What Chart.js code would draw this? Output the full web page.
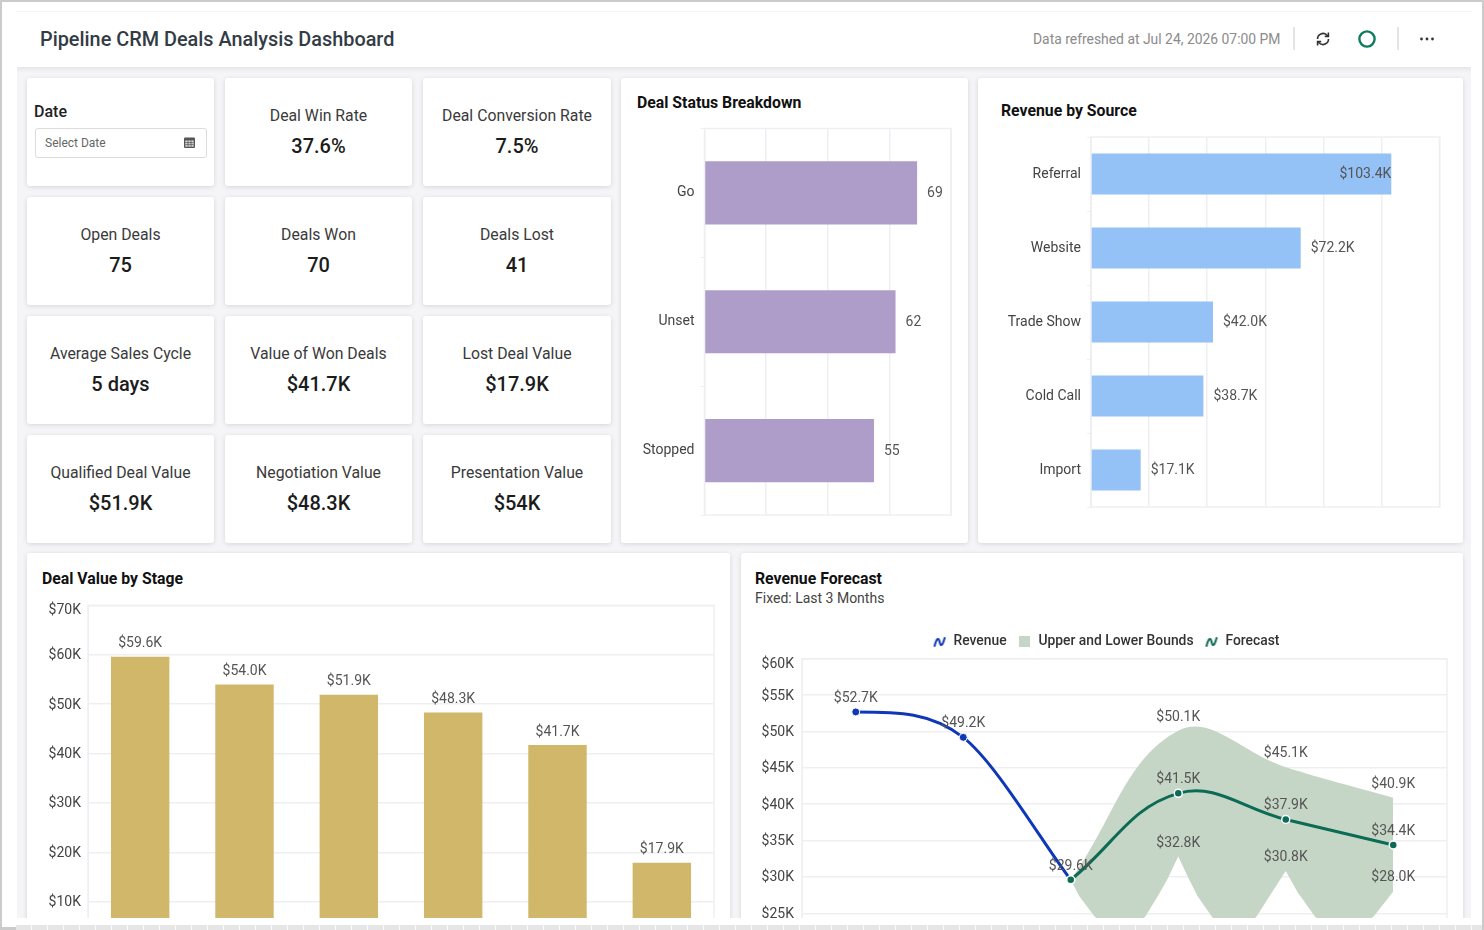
<!DOCTYPE html>
<html><head><meta charset="utf-8">
<style>
html,body{margin:0;padding:0;width:1484px;height:930px;overflow:hidden;background:#fff;font-family:Roboto,sans-serif;}
#frame{position:absolute;left:0;top:0;width:1484px;height:930px;overflow:hidden;background:#fff;}
#frame:before{content:"";position:absolute;left:0;top:0;right:0;height:2px;background:#cbcbcb;z-index:9;}
#lb{position:absolute;left:0;top:0;width:2px;height:930px;background:#cbcbcb;z-index:9;}
#rb{position:absolute;left:1482px;top:0;width:2px;height:930px;background:#cbcbcb;z-index:9;}
#hl{position:absolute;left:16px;top:11px;width:1456px;height:1px;background:#f6f6f6;}
#title{position:absolute;left:40px;top:27px;font-size:19.85px;font-weight:500;color:#333b45;line-height:26px;white-space:nowrap;}
#refresh{position:absolute;left:1033px;top:30px;font-size:13.9px;color:#8b8b8b;line-height:18px;white-space:nowrap;}
.sep{position:absolute;top:27px;width:2px;height:23px;background:#e4e4e4;}
#content{position:absolute;left:17px;top:67px;width:1454px;height:851px;background:#f5f5f8;overflow:hidden;box-shadow:inset 0 5px 5px -3px rgba(0,0,0,.08);}
.card{position:absolute;background:#fff;border-radius:3px;box-shadow:0 1px 5px rgba(0,0,0,.13);}
.lab{position:absolute;left:0;right:0;text-align:center;font-size:15.8px;color:#3a3a3a;line-height:20px;white-space:nowrap;}
.val{position:absolute;left:0;right:0;text-align:center;font-size:20px;font-weight:500;color:#1c1c1c;line-height:26px;white-space:nowrap;}
.ptitle{position:absolute;font-size:15.8px;font-weight:700;color:#111;line-height:20px;white-space:nowrap;}
.psub{position:absolute;font-size:14px;color:#444;line-height:18px;white-space:nowrap;}
canvas{position:absolute;}
#bottom{position:absolute;left:0;top:918px;width:1484px;height:12px;background:#fff;}
#strip{position:absolute;left:16px;top:925px;width:1466px;height:5px;background:repeating-linear-gradient(90deg,#e6e6e6 0,#e6e6e6 15px,#fafafa 15px,#fafafa 16px);}
#bl{position:absolute;left:0;top:927px;width:16px;height:3px;background:#cbcbcb;}
svg{position:absolute;}
</style>
<script src="https://cdn.jsdelivr.net/npm/chart.js@4/dist/chart.umd.min.js"></script>
</head><body>
<div id="frame">
<div id="lb"></div><div id="rb"></div><div id="hl"></div>
<div id="title">Pipeline CRM Deals Analysis Dashboard</div>
<div id="refresh">Data refreshed at Jul 24, 2026 07:00 PM</div>
<div class="sep" style="left:1293px"></div><div class="sep" style="left:1397px"></div>
<svg style="left:1315px;top:31px" width="16" height="16" viewBox="0 0 16 16" fill="none" stroke="#333" stroke-width="1.6"><path d="M2.5 8a5.5 5.5 0 0 1 9.3-4l1.4 1.2"/><path d="M13.5 8a5.5 5.5 0 0 1-9.3 4l-1.4-1.2"/><path d="M13.4 1.6v3.8H9.8"/><path d="M2.6 14.4v-3.8h3.6"/></svg>
<svg style="left:1357px;top:29px" width="20" height="20"><circle cx="10" cy="10" r="7.6" fill="none" stroke="#0e7c5a" stroke-width="2.4"/></svg>
<svg style="left:1419px;top:36px" width="16" height="6"><circle cx="2.5" cy="3" r="1.4" fill="#333"/><circle cx="8" cy="3" r="1.4" fill="#333"/><circle cx="13.5" cy="3" r="1.4" fill="#333"/></svg>
<div id="content"></div>
<div id="bottom"></div><div id="strip"></div><div id="bl"></div>
</div>
<script>
// ---------- data ----------
const kpiLabels = ["Deal Win Rate","Deal Conversion Rate","Open Deals","Deals Won","Deals Lost","Average Sales Cycle","Value of Won Deals","Lost Deal Value","Qualified Deal Value","Negotiation Value","Presentation Value"];
const kpiValues = ["37.6%","7.5%","75","70","41","5 days","$41.7K","$17.9K","$51.9K","$48.3K","$54K"];

const statusCategories = ["Go","Unset","Stopped"];
const statusValues = [69,62,55];

const sourceCategories = ["Referral","Website","Trade Show","Cold Call","Import"];
const sourceValues = [103.4,72.2,42.0,38.7,17.1];

const stageCategories = ["Other","Presentation","Qualified","Negotiation","Won","Lost"];
const stageValues = [59.6,54.0,51.9,48.3,41.7,17.9];

const periodIndex = [0,1,2,3,4,5];
const revenueValues = [52.7,49.2,29.6];
const forecastValues = [null,null,29.6,41.5,37.9,34.4];
const upperValues = [null,null,29.6,50.1,45.1,40.9];
// lower edge of the band (period position, $K)
const lowerPositions = [2,2.08,2.22,2.47,2.695,2.82,2.90,3,3.09,3.18,3.31,3.5,3.73,3.86,4,4.11,4.27,4.5,4.82,5];
const lowerValues = [29.6,27.35,24.6,21,24.6,27.6,29.7,32.8,30,27.35,24.6,21,24.6,27.6,30.8,27.9,24.6,21,24.6,28.0];

// ---------- page furniture ----------
const content = document.getElementById('content');
function place(el,x,y,w,h){el.style.left=(x-17)+'px';el.style.top=(y-67)+'px';if(w!=null)el.style.width=w+'px';if(h!=null)el.style.height=h+'px';}
function card(x,y,w,h){const d=document.createElement('div');d.className='card';place(d,x,y,w,h);content.appendChild(d);return d;}
const colX=[27,225,423], rowY=[78,197,316,435];
const dateCard=card(27,78,187,108);
dateCard.innerHTML='<div style="position:absolute;left:7px;top:24px;font-size:16px;font-weight:500;color:#222;line-height:20px">Date</div>'+
 '<div style="position:absolute;left:8px;top:50px;width:170px;height:28px;border:1px solid #dcdcdc;border-radius:3px;box-sizing:content-box"></div>'+
 '<div style="position:absolute;left:18px;top:57px;font-size:12px;color:#666;line-height:16px">Select Date</div>'+
 '<svg style="left:156px;top:58px" width="13" height="13" viewBox="0 0 13 13"><rect x="1" y="1.5" width="11" height="10.5" rx="1" fill="#555"/><rect x="2.3" y="4.5" width="8.4" height="6.2" fill="#ddd"/><path d="M5 4.5v6.2M8 4.5v6.2M2.3 6.6h8.4M2.3 8.7h8.4" stroke="#555" stroke-width=".8"/></svg>';
kpiLabels.forEach((t,i)=>{
  const idx=i+1, c=colX[idx%3], r=rowY[Math.floor(idx/3)];
  const d=card(c,r,idx%3==2?188:187,108);
  d.innerHTML='<div class="lab" style="top:28px">'+t+'</div><div class="val" style="top:55px">'+kpiValues[i]+'</div>';
});
card(621,78,347,465); card(978,78,485,465); card(27,553,703,400); card(741,553,722,400);
function ptext(cls,t,x,y){const d=document.createElement('div');d.className=cls;d.textContent=t;place(d,x,y);content.appendChild(d);}
ptext('ptitle','Deal Status Breakdown',637,93);
ptext('ptitle','Revenue by Source',1001,101);
ptext('ptitle','Deal Value by Stage',42,569);
ptext('ptitle','Revenue Forecast',755,569);
ptext('psub','Fixed: Last 3 Months',755,589);
function addCanvas(x,y,w,h){const c=document.createElement('canvas');c.width=w;c.height=h;c.style.width=w+'px';c.style.height=h+'px';place(c,x,y);content.appendChild(c);return c;}

// ---------- chart helpers ----------
const GRID='#efeef2', TICK='#444', VAL='#555', FONT='Roboto';
Chart.defaults.font.family=FONT; Chart.defaults.font.size=14; Chart.defaults.animation=false;
const fmtK=v=>'$'+v.toFixed(1)+'K';
const fmtN=v=>String(v);

const framePlugin={id:'frame',beforeDatasetsDraw(ch){const a=ch.chartArea,c=ch.ctx;c.save();c.strokeStyle=GRID;c.lineWidth=1.5;c.strokeRect(a.left,a.top,a.right-a.left,a.bottom-a.top);c.restore();}};
// tick labels sit a touch lower; the top one sits inside the plot, under the top edge
const tickNudgePlugin={id:'tickNudge',beforeDraw(ch){const items=ch.scales.y.getLabelItems();const top=ch.options.plugins.tickNudge.label;
  items.forEach(it=>{if(!it.__moved){it.options.translation[1]+=(it.label===top?5.5:1);it.__moved=true;}});}};
const barLabelPlugin={id:'barLabel',afterDatasetsDraw(ch){const ds=ch.data.datasets[0],m=ch.getDatasetMeta(0),c=ch.ctx,f=ds.valueFormat,h=ch.options.indexAxis==='y';
  c.save();c.font='14px '+FONT;c.fillStyle=VAL;c.textBaseline='middle';
  m.data.forEach((b,i)=>{const t=f(ds.data[i]);
    if(h){const w=c.measureText(t).width;
      if(b.x+10+w>ch.chartArea.right){c.textAlign='right';c.fillText(t,b.x,b.y+0.5);}
      else{c.textAlign='left';c.fillText(t,b.x+10,b.y+0.5);}}
    else{c.textAlign='center';c.fillText(t,b.x,b.y-13);}
  });c.restore();}};
const pointLabelPlugin={id:'pointLabel',afterDatasetsDraw(ch){const c=ch.ctx;c.save();c.font='14px '+FONT;c.fillStyle=VAL;c.textAlign='center';c.textBaseline='middle';
  ch.data.datasets.forEach((d,di)=>{if(d.labelFrom==null)return;const m=ch.getDatasetMeta(di);
    d.data.forEach((p,i)=>{if(p.y==null||!Number.isInteger(p.x)||p.x<d.labelFrom)return;c.fillText(fmtK(p.y),m.data[i].x,m.data[i].y-13.5);});});
  c.restore();}};
// revenue curve: flat start, smooth through the middle point, straight into the last one
const revenueCurvePlugin={id:'revenueCurve',afterDatasetsUpdate(ch){const m=ch.getDatasetMeta(0),L=m.dataset,p=m.data;
  L.updateControlPoints(ch.chartArea,'x');L._pointsUpdated=true;
  const [a,b,c]=p;
  a.cp2x=a.x+0.4*(b.x-a.x);a.cp2y=a.y;
  const tx=0.15*(c.x-a.x),ty=0.15*(c.y-a.y);
  b.cp1x=b.x-tx;b.cp1y=b.y-ty;b.cp2x=b.x+tx;b.cp2y=b.y+ty;
  c.cp1x=c.x-0.28*(c.x-b.x);c.cp1y=c.y-0.28*(c.y-b.y);}};
// legend: keep a little room under it and centre it on the panel
const legendFitPlugin={id:'legendFit',beforeLayout(ch){ch.legend.afterFit=function(){this.height+=3.5;};},afterLayout(ch){ch.legend.left+=7.5;ch.legend.right+=7.5;}};
const fixW=w=>s=>{s.width=w;}, fixH=h=>s=>{s.height=h;};

function hbar(canvas,cats,vals,color,pct,yW,xH,pad,xMax,xStep,tickLen,fmt){
  return new Chart(canvas,{type:'bar',data:{labels:cats,datasets:[{data:vals,valueFormat:fmt,backgroundColor:color,barPercentage:pct,categoryPercentage:1}]},
   options:{indexAxis:'y',responsive:false,layout:{padding:pad},
    plugins:{legend:{display:false},tooltip:{enabled:false}},
    scales:{x:{min:0,max:xMax,ticks:{display:false,stepSize:xStep},grid:{color:GRID,lineWidth:1.5,drawTicks:false},border:{display:false},afterFit:fixH(xH)},
            y:{ticks:{color:TICK,font:{size:14},padding:6},grid:{drawOnChartArea:false,color:GRID,tickLength:tickLen},border:{color:GRID},afterFit:fixW(yW)}}},
   plugins:[framePlugin,barLabelPlugin]});
}
hbar(addCanvas(625,110,340,425),statusCategories,statusValues,'#ae9dc8',0.49,79.5,20,{top:18.5,right:14},80,20,4,fmtN);
hbar(addCanvas(985,118,470,410),sourceCategories,sourceValues,'#94c1f6',0.555,106,21,{top:19,right:15.5},120,20,4,fmtK);

new Chart(addCanvas(30,590,695,381),{type:'bar',data:{labels:stageCategories,datasets:[{data:stageValues,valueFormat:fmtK,backgroundColor:'#d1b76a',barPercentage:0.56,categoryPercentage:1}]},
 options:{responsive:false,layout:{padding:{top:14,right:11}},
  plugins:{legend:{display:false},tooltip:{enabled:false},tickNudge:{label:'$70K'}},
  scales:{x:{ticks:{display:false},grid:{display:false},border:{display:false},afterFit:fixH(20)},
          y:{min:0,max:70,ticks:{stepSize:10,color:TICK,padding:7,callback:v=>'$'+v+'K'},grid:{color:GRID,lineWidth:1.5,drawTicks:false},border:{color:GRID},afterFit:fixW(58)}}},
 plugins:[framePlugin,barLabelPlugin,tickNudgePlugin]});

// legend glyphs
function squiggle(color){const c=document.createElement('canvas');c.width=14;c.height=14;const x=c.getContext('2d');x.strokeStyle=color;x.lineWidth=2;x.lineCap='round';x.beginPath();x.moveTo(2,11);x.bezierCurveTo(4,3,6,2,7,7);x.bezierCurveTo(8,12,10,11,12,3);x.stroke();return c;}
function square(color){const c=document.createElement('canvas');c.width=11;c.height=11;const x=c.getContext('2d');x.fillStyle=color;x.fillRect(0,0,11,11);return c;}
const BLUE='#0f38b8', GREEN='#0b6b55', AREA='#c6d6c6';
const legendItems=[{text:'Revenue',pointStyle:squiggle(BLUE)},{text:'Upper and Lower Bounds',pointStyle:square(AREA)},{text:'Forecast',pointStyle:squiggle(GREEN)}];
const xy=(vals)=>periodIndex.slice(0,vals.length).map((x,i)=>({x,y:vals[i]}));
new Chart(addCanvas(750,624,713,491),{type:'line',data:{datasets:[
  {label:'Revenue',data:xy(revenueValues),borderColor:BLUE,backgroundColor:BLUE,borderWidth:3,tension:0.4,pointRadius:4,pointBorderColor:'#fff',pointBorderWidth:1,order:1,labelFrom:0},
  {label:'Upper and Lower Bounds',data:xy(upperValues),borderWidth:0,tension:0.4,pointRadius:0,fill:{target:3},backgroundColor:AREA,order:3,labelFrom:3},
  {label:'Forecast',data:xy(forecastValues),borderColor:GREEN,backgroundColor:GREEN,borderWidth:3,tension:0.4,pointRadius:4,pointBorderColor:'#fff',pointBorderWidth:1.5,order:0,labelFrom:3},
  {label:'Lower',data:lowerPositions.map((x,i)=>({x,y:lowerValues[i]})),borderWidth:0,tension:0,pointRadius:0,fill:false,order:4,labelFrom:3}
 ]},
 options:{responsive:false,parsing:false,normalized:false,spanGaps:false,layout:{padding:{right:16}},
  plugins:{tooltip:{enabled:false},tickNudge:{label:'$60K'},
   legend:{position:'top',labels:{usePointStyle:true,pointStyleWidth:14,padding:11,color:'#333',font:{size:13.85,weight:'500'},
     generateLabels:()=>legendItems.map(it=>({text:it.text,pointStyle:it.pointStyle,fontColor:'#333',hidden:false,lineWidth:0}))}}},
  scales:{x:{type:'linear',min:-0.5,max:5.5,ticks:{display:false},grid:{display:false},border:{display:false},afterFit:fixH(20)},
          y:{min:0,max:60,ticks:{stepSize:5,color:TICK,padding:8,callback:v=>'$'+v+'K'},grid:{color:GRID,lineWidth:1.5,drawTicks:false},border:{color:GRID},afterFit:fixW(52)}}},
 plugins:[framePlugin,pointLabelPlugin,tickNudgePlugin,revenueCurvePlugin,legendFitPlugin]});
</script>
</body></html>
